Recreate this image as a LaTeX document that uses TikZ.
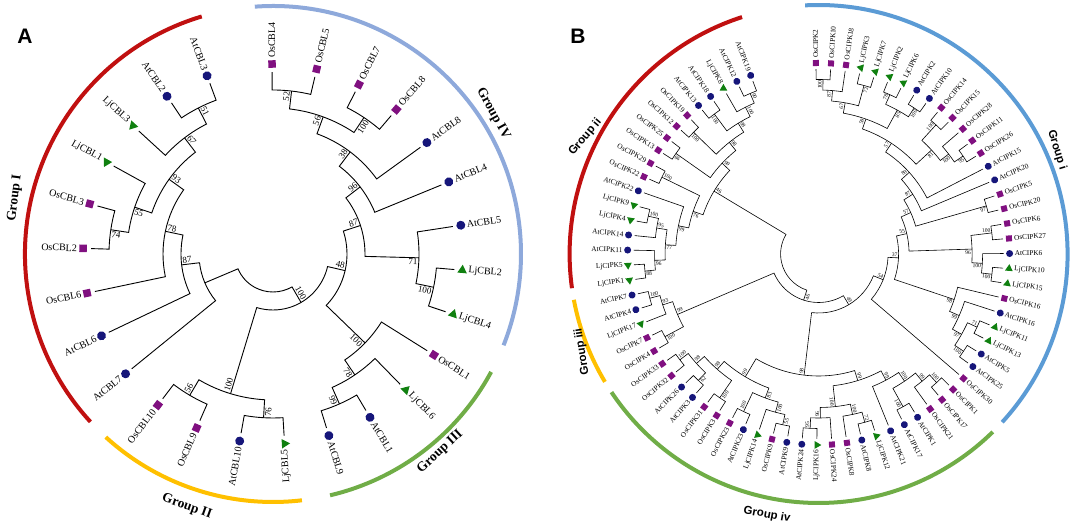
\documentclass[tikz,border=0pt]{standalone}
\usepackage{fontspec}
\setmainfont{Liberation Serif}
\newfontfamily\arialfont{Liberation Sans}
\usetikzlibrary{shapes.geometric}

\definecolor{atblue}{RGB}{22,22,122}
\definecolor{ospurple}{RGB}{128,16,128}
\definecolor{ljgreen}{RGB}{16,128,16}
\definecolor{grpred}{RGB}{192,16,16}
\definecolor{grpblueA}{RGB}{142,169,219}
\definecolor{grpblueB}{RGB}{91,155,213}
\definecolor{grpgreen}{RGB}{112,173,71}
\definecolor{grpyellow}{RGB}{255,192,0}

\tikzset{
  branch/.style={line width=0.9pt},
  leaflab/.style={font=\fontsize{10}{10}\selectfont, inner sep=0pt},
  boot/.style={font=\fontsize{9}{9}\selectfont, inner sep=1.2pt},
  symAt/.style={circle, fill=atblue, minimum size=9pt, inner sep=0pt},
  symOs/.style={rectangle, fill=ospurple, minimum size=7.5pt, inner sep=0pt},
  symLj/.style={regular polygon, regular polygon sides=3, fill=ljgreen, minimum size=11pt, inner sep=0pt},
  ring/.style={line width=4pt},
  grpA/.style={font=\bfseries\fontsize{13.5}{14}\selectfont},
  grpB/.style={font=\arialfont\bfseries\fontsize{11.5}{12}\selectfont},
  panellab/.style={font=\arialfont\bfseries\fontsize{21}{21}\selectfont}
}

% circular cladogram: leaves on a circle, clades = arc + radial branches
\newcommand\setpanel[7]{\gdef\astart{#1}\gdef\astep{#2}\gdef\rleaf{#3}\gdef\rlev{#4}%
  \gdef\rsym{#5}\gdef\rtxt{#6}\gdef\askew{#7}}

\newcommand\leaf[3]{%
  \pgfmathsetmacro\lfang{\astart-\astep*#2}%
  \pgfmathsetmacro\lfsym{\rleaf+\rsym}%
  \pgfmathsetmacro\lftxt{\rleaf+\rtxt}%
  \expandafter\xdef\csname ta@#1\endcsname{\lfang}%
  \expandafter\xdef\csname th@#1\endcsname{0}%
  \expandafter\gdef\csname tb@#1\endcsname{}%
  \coordinate (#1) at (\lfang:\rleaf);
  \node[sym#3,rotate=\lfang] (#1-s) at (\lfang:\lfsym) {};
  \pgfmathtruncatemacro\lfflip{cos(\lfang+\askew)<0}%
  \ifnum\lfflip=0
    \node[leaflab,rotate=\lfang,anchor=west] (#1-t) at (\lfang:\lftxt) {#1};
  \else
    \pgfmathsetmacro\lfrot{\lfang+180}%
    \node[leaflab,rotate=\lfrot,anchor=east] (#1-t) at (\lfang:\lftxt) {#1};
  \fi}

% bootstrap value beside a node, on the side away from its sibling
\newcommand\bootlab[2]{%
  \edef\bltext{\csname tb@#1\endcsname}%
  \ifx\bltext\empty\else
    \edef\blang{\csname ta@#1\endcsname}%
    \pgfmathtruncatemacro\blflip{cos(\blang+\askew)<0}%
    \ifnum\blflip=0
      \ifnum#2=1 \def\blanc{south east}\else\def\blanc{north east}\fi
      \node[boot,rotate=\blang,anchor=\blanc] at (#1) {\bltext};
    \else
      \ifnum#2=1 \def\blanc{north west}\else\def\blanc{south west}\fi
      \pgfmathsetmacro\blrot{\blang+180}%
      \node[boot,rotate=\blrot,anchor=\blanc] at (#1) {\bltext};
    \fi
  \fi}

\newcommand\clade[4]{%
  \edef\clA{\csname ta@#2\endcsname}\edef\clB{\csname ta@#3\endcsname}%
  \pgfmathtruncatemacro\clH{max(\csname th@#2\endcsname,\csname th@#3\endcsname)+1}%
  \pgfmathsetmacro\clR{\rleaf-\rlev*\clH}%
  \pgfmathsetmacro\clM{(\clA+\clB)/2}%
  \expandafter\xdef\csname ta@#1\endcsname{\clM}%
  \expandafter\xdef\csname th@#1\endcsname{\clH}%
  \expandafter\xdef\csname tb@#1\endcsname{#4}%
  \coordinate (#1) at (\clM:\clR);
  \draw[branch] (#2) -- (\clA:\clR) arc[start angle=\clA,end angle=\clB,radius=\clR] -- (#3);
  \bootlab{#2}{1}\bootlab{#3}{0}}

\begin{document}
\begin{tikzpicture}[x=1pt,y=1pt]
\useasboundingbox (0,0) rectangle (1072,524);
\node[panellab] (labA) at (25,488) {A};
\node[panellab] (labB) at (578,488) {B};

% ---- panel A: CBL tree
\begin{scope}[shift={(273,270)}]
\setpanel{90.3}{13.6}{182}{18}{8}{14}{-4}
\foreach \nm/\kd [count=\i from 0] in {OsCBL4/Os,OsCBL5/Os,OsCBL7/Os,OsCBL8/Os,
  AtCBL8/At,AtCBL4/At,AtCBL5/At,LjCBL2/Lj,LjCBL4/Lj,OsCBL1/Os,LjCBL6/Lj,AtCBL1/At,
  AtCBL9/At,LjCBL5/Lj,AtCBL10/At,OsCBL9/Os,OsCBL10/Os,AtCBL7/At,AtCBL6/At,OsCBL6/Os,
  OsCBL2/Os,OsCBL3/Os,LjCBL1/Lj,LjCBL3/Lj,AtCBL2/At,AtCBL3/At}
  {\leaf{\nm}{\i}{\kd}}
\foreach \nm/\p/\q/\bs in {a1/OsCBL4/OsCBL5/52,a2/OsCBL7/OsCBL8/100,a3/a1/a2/56,
  a4/a3/AtCBL8/38,a5/a4/AtCBL4/96,a6/LjCBL2/LjCBL4/100,a7/AtCBL5/a6/71,a8/a5/a7/87,
  a9/AtCBL1/AtCBL9/99,a10/LjCBL6/a9/78,a11/OsCBL1/a10/100,a12/a8/a11/48,
  a13/LjCBL5/AtCBL10/76,a14/OsCBL9/OsCBL10/56,a15/a13/a14/100,a16/a12/a15/100,
  a17/OsCBL2/OsCBL3/74,a18/a17/LjCBL1/55,a19/AtCBL2/AtCBL3/51,a20/LjCBL3/a19/67,
  a21/a18/a20/93,a22/OsCBL6/a21/78,a23/AtCBL6/a22/87}
  {\clade{\nm}{\p}{\q}{\bs}}
\clade{a24}{AtCBL7}{a23}{}
\clade{a25}{a16}{a24}{}
% group rings
\draw[ring,grpred] (106.7:248) arc[start angle=106.7,end angle=222.6,radius=248];
\draw[ring,grpblueA] (94.2:248) arc[start angle=94.2,end angle=-21.6,radius=248];
\draw[ring,grpgreen] (-28.4:248) arc[start angle=-28.4,end angle=-76.7,radius=248];
\draw[ring,grpyellow] (-83.3:248) arc[start angle=-83.3,end angle=-132.4,radius=248];
\node[grpA,rotate=83] (gI) at (167.8:264) {Group I};
\node[grpA,rotate=-61] (gIV) at (32.5:261) {Group IV};
\node[grpA,rotate=43] (gIII) at (-49.8:259) {Group III};
\node[grpA,rotate=-19.5] (gII) at (-108.8:267) {Group II};
\end{scope}

% ---- panel B: CIPK tree
\begin{scope}[shift={(818.6,270)},
  branch/.style={line width=0.6pt},
  leaflab/.style={font=\fontsize{7.3}{7.3}\selectfont, inner sep=0pt},
  boot/.style={font=\fontsize{5.5}{5.5}\selectfont, inner sep=1pt},
  symAt/.append style={minimum size=7pt},
  symOs/.append style={minimum size=6pt},
  symLj/.append style={minimum size=9pt}]
\setpanel{90.8}{4.533}{185}{10.5}{6}{11}{-4}
\foreach \nm/\kd [count=\i from 0] in {OsCIPK2/Os,OsCIPK10/Os,OsCIPK18/Os,LjCIPK3/Lj,
  LjCIPK7/Lj,LjCIPK2/Lj,LjCIPK6/Lj,AtCIPK2/At,AtCIPK10/At,OsCIPK14/Os,OsCIPK15/Os,
  OsCIPK28/Os,OsCIPK11/Os,OsCIPK26/Os,AtCIPK15/At,AtCIPK20/At,OsCIPK5/Os,OsCIPK20/Os,
  OsCIPK6/Os,OsCIPK27/Os,AtCIPK6/At,LjCIPK10/Lj,LjCIPK15/Lj,OsCIPK16/Os,AtCIPK16/At,
  LjCIPK11/Lj,LjCIPK13/Lj,AtCIPK5/At,AtCIPK25/At,OsCIPK30/Os,OsCIPK1/Os,OsCIPK17/Os,
  OsCIPK21/Os,AtCIPK1/At,AtCIPK17/At,AtCIPK21/At,LjCIPK12/Lj,AtCIPK8/At,OsCIPK8/Os,
  OsCIPK24/Os,LjCIPK16/Lj,AtCIPK24/At,AtCIPK9/At,OsCIPK9/Os,LjCIPK14/Lj,AtCIPK23/At,
  OsCIPK23/Os,OsCIPK3/Os,OsCIPK31/Os,AtCIPK3/At,AtCIPK26/At,OsCIPK32/Os,OsCIPK33/Os,
  OsCIPK4/Os,OsCIPK7/Os,LjCIPK17/Lj,AtCIPK4/At,AtCIPK7/At,LjCIPK1/Lj,LjCIPK5/Lj,
  AtCIPK11/At,AtCIPK14/At,LjCIPK4/Lj,LjCIPK9/Lj,AtCIPK22/At,OsCIPK22/Os,OsCIPK29/Os,
  OsCIPK13/Os,OsCIPK25/Os,OsCIPK12/Os,OsCIPK19/Os,AtCIPK13/At,AtCIPK18/At,LjCIPK8/Lj,
  AtCIPK12/At,AtCIPK19/At}
  {\leaf{\nm}{\i}{\kd}}
% group i
\foreach \nm/\p/\q/\bs in {b1/OsCIPK2/OsCIPK10/100,b2/b1/OsCIPK18/87,b3/LjCIPK3/LjCIPK7/72,
  b4/b2/b3/67,b5/LjCIPK2/LjCIPK6/78,b6/AtCIPK2/AtCIPK10/100,b7/b5/b6/85,b8/b4/b7/59,
  b9/OsCIPK14/OsCIPK15/100,b10/OsCIPK11/OsCIPK26/95,b11/OsCIPK28/b10/100,b12/b9/b11/81,
  b13/b8/b12/57,b14/b13/AtCIPK15/89,b15/b14/AtCIPK20/87,b16/OsCIPK5/OsCIPK20/97,
  b17/b15/b16/57,b18/OsCIPK6/OsCIPK27/100,b19/LjCIPK10/LjCIPK15/100,b20/AtCIPK6/b19/100,
  b21/b18/b20/96,b22/b17/b21/55,b23/LjCIPK11/LjCIPK13/71,b24/AtCIPK5/AtCIPK25/100,
  b25/b23/b24/97,b26/AtCIPK16/b25/99,b27/OsCIPK16/b26/98,b28/b22/b27/37,b29/b28/OsCIPK30/54}
  {\clade{\nm}{\p}{\q}{\bs}}
% group iv
\foreach \nm/\p/\q/\bs in {b30/OsCIPK1/OsCIPK17/100,b31/b30/OsCIPK21/99,
  b32/AtCIPK1/AtCIPK17/100,b33/b31/b32/100,b34/b33/AtCIPK21/99,b35/LjCIPK12/AtCIPK8/72,
  b36/b35/OsCIPK8/100,b37/LjCIPK16/AtCIPK24/95,b38/OsCIPK24/b37/96,b39/b36/b38/100,
  b40/b34/b39/99,b41/AtCIPK9/OsCIPK9/55,b42/b41/LjCIPK14/100,b43/AtCIPK23/OsCIPK23/100,
  b44/b42/b43/83,b45/OsCIPK3/OsCIPK31/100,b46/AtCIPK3/AtCIPK26/62,b47/OsCIPK32/OsCIPK33/100,
  b48/b46/b47/98,b49/b45/b48/98,b50/b44/b49/99,b51/b40/b50/98,b52/b29/b51/49}
  {\clade{\nm}{\p}{\q}{\bs}}
% groups iii and ii
\foreach \nm/\p/\q/\bs in {b53/OsCIPK4/OsCIPK7/100,b54/AtCIPK4/AtCIPK7/100,
  b55/LjCIPK17/b54/93,b56/b53/b55/99,b57/b52/b56/46,b58/LjCIPK1/LjCIPK5/88,
  b59/b58/AtCIPK11/96,b60/LjCIPK4/LjCIPK9/100,b61/AtCIPK14/b60/95,b62/b59/b61/77,
  b63/b62/AtCIPK22/99,b64/OsCIPK22/OsCIPK29/100,b65/b63/b64/76,b66/OsCIPK13/OsCIPK25/66,
  b67/OsCIPK12/OsCIPK19/100,b68/AtCIPK13/AtCIPK18/100,b69/AtCIPK12/AtCIPK19/90,
  b70/LjCIPK8/b69/100,b71/b68/b70/98,b72/b67/b71/98,b73/b66/b72/99,b74/b65/b73/46}
  {\clade{\nm}{\p}{\q}{\bs}}
\clade{b75}{b57}{b74}{}
% group rings
\draw[ring,grpred] (107.9:249) arc[start angle=107.9,end angle=187.9,radius=249];
\draw[ring,grpyellow] (190.6:249) arc[start angle=190.6,end angle=210.9,radius=249];
\draw[ring,grpgreen] (213.7:249) arc[start angle=213.7,end angle=314.4,radius=249];
\draw[ring,grpblueB] (-42.5:249) arc[start angle=-42.5,end angle=93.1,radius=249];
\node[grpB,rotate=-73] (gi) at (23.6:260) {Group i};
\node[grpB,rotate=50] (gii) at (153.4:261) {Group ii};
\node[grpB,rotate=99] (giii) at (202.5:256) {Group iii};
\node[grpB,rotate=-10.5] (giv) at (258.8:266) {Group iv};
\end{scope}
\end{tikzpicture}
\end{document}
